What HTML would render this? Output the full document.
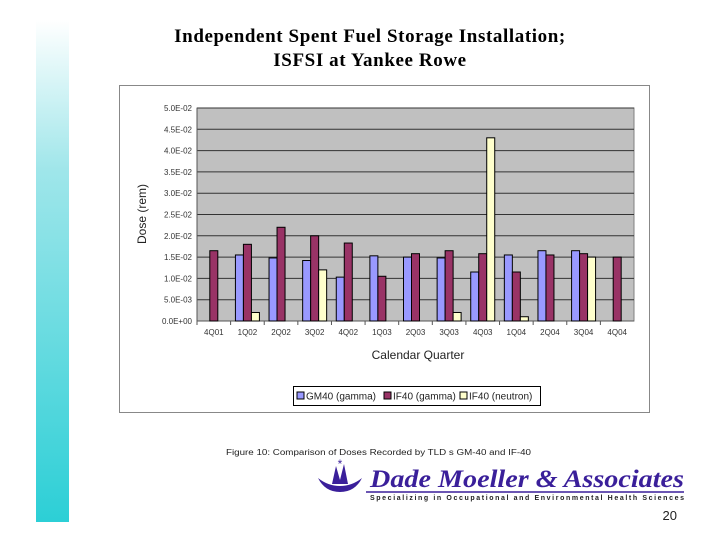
<!DOCTYPE html>
<html><head><meta charset="utf-8"><style>
body{margin:0;width:720px;height:540px;background:#fff;position:relative;overflow:hidden;font-family:"Liberation Sans",sans-serif}
#stripe{position:absolute;left:36px;top:20px;width:33px;height:502px;background:linear-gradient(#fff,#9fe6ea 30%,#2ccfd6)}
#title{position:absolute;left:70px;top:25px;width:600px;text-align:center;font-family:"Liberation Serif",serif;font-weight:bold;font-size:19px;letter-spacing:0.6px;line-height:24px;color:#000}
</style></head><body>
<div id="stripe"></div>
<div id="title">Independent Spent Fuel Storage Installation;<br>ISFSI at Yankee Rowe</div>
<svg id="chart" width="720" height="540" style="position:absolute;left:0;top:0"></svg>
<script>
const categories=["4Q01","1Q02","2Q02","3Q02","4Q02","1Q03","2Q03","3Q03","4Q03","1Q04","2Q04","3Q04","4Q04"];
const gm40Gamma=[null,0.0155,0.0148,0.0142,0.0103,0.0153,0.0150,0.0148,0.0115,0.0155,0.0165,0.0165,null];
const if40Gamma=[0.0165,0.0180,0.0220,0.0200,0.0183,0.0105,0.0158,0.0165,0.0158,0.0115,0.0155,0.0158,0.0150];
const if40Neutron=[null,0.0020,null,0.0120,null,null,null,0.0020,0.0430,0.0010,null,0.0150,null];
const yTicks=[0,0.005,0.01,0.015,0.02,0.025,0.03,0.035,0.04,0.045,0.05];
const yTickLabels=["0.0E+00","5.0E-03","1.0E-02","1.5E-02","2.0E-02","2.5E-02","3.0E-02","3.5E-02","4.0E-02","4.5E-02","5.0E-02"];
const series=[{name:"GM40 (gamma)",vals:gm40Gamma,color:"#9999ff",off:-12},{name:"IF40 (gamma)",vals:if40Gamma,color:"#993366",off:-4},{name:"IF40 (neutron)",vals:if40Neutron,color:"#ffffcc",off:4}];
const svg=document.getElementById('chart');const NS="http://www.w3.org/2000/svg";
function mk(t,a,p){const e=document.createElementNS(NS,t);for(const k in a)e.setAttribute(k,a[k]);(p||svg).appendChild(e);return e;}
const X0=197,X1=634,Y0=321,Y1=108;
const band=(X1-X0)/categories.length;
const xC=i=>X0+band*(i+0.5);
const y=v=>Y0-(v/0.05)*(Y0-Y1);
let e=mk('rect',{x:119.5,y:85.5,width:530,height:327,fill:'#fff',stroke:'#888'});


e=mk('rect',{x:X0,y:Y1,width:X1-X0,height:Y0-Y1,fill:'#c0c0c0',stroke:'#808080'});


yTicks.forEach((t,i)=>{
 if(t>0){const g=mk('line',{x1:X0,x2:X1,y1:y(t),y2:y(t),stroke:'#333','stroke-width':1});
 
 }
 const tx=mk('text',{x:X0-5,y:y(t)+3,'text-anchor':'end','font-size':8,fill:'#333'});tx.textContent=yTickLabels[i];
 
 
});
mk('line',{x1:X0,x2:X0,y1:Y1,y2:Y0,stroke:'#555'});
mk('line',{x1:X0,x2:X1,y1:Y0,y2:Y0,stroke:'#555'});
categories.forEach((c,i)=>{
 mk('line',{x1:X0+band*i,x2:X0+band*i,y1:Y0,y2:Y0+4,stroke:'#555'});
 const tx=mk('text',{x:xC(i),y:Y0+14,'text-anchor':'middle','font-size':8,fill:'#333'});tx.textContent=c;
 
 
 series.forEach(s=>{const v=s.vals[i];if(v==null)return;
  const r=mk('rect',{x:xC(i)+s.off,y:y(v),width:8,height:Y0-y(v),fill:s.color,stroke:'#000','stroke-width':1});
  
  });
});
let t=mk('text',{x:146,y:214,'text-anchor':'middle','font-size':12,fill:'#222',transform:'rotate(-90 146 214)'});t.textContent="Dose (rem)";


t=mk('text',{x:418,y:359,'text-anchor':'middle','font-size':12,fill:'#222'});t.textContent="Calendar Quarter";


const lg=mk('g',{});


mk('rect',{x:293.5,y:386.5,width:247,height:19,fill:'#fff',stroke:'#000'},lg);
[[297,'GM40 (gamma)'],[384,'IF40 (gamma)'],[460,'IF40 (neutron)']].forEach((p,k)=>{
 mk('rect',{x:p[0],y:392,width:7,height:7,fill:series[k].color,stroke:'#000'},lg);
 const tt=mk('text',{x:p[0]+9,y:399.5,'font-size':10,fill:'#222'},lg);tt.textContent=p[1];
 
 
});
t=mk('text',{x:226,y:455,'font-size':8,fill:'#222',textLength:305,lengthAdjust:'spacingAndGlyphs'});t.textContent="Figure 10: Comparison of Doses Recorded by TLD s GM-40 and IF-40";


const logo=mk('g',{});


mk('path',{d:'M318 478 Q325 492 340 492 Q355 492 362 478 Q352 486 340 486 Q328 486 318 478Z',fill:'#3a1f9a'},logo);
mk('path',{d:'M332 484 L336 466 L340 480 L344 464 L348 484Z',fill:'#3a1f9a'},logo);
mk('text',{x:340,y:468,'text-anchor':'middle','font-size':12,fill:'#3a1f9a'},logo).textContent="*";
let lt=mk('text',{x:370,y:487,'font-size':25,'font-family':'Liberation Serif,serif','font-weight':'bold','font-style':'italic',fill:'#3a1f9a',textLength:314,lengthAdjust:'spacingAndGlyphs'},logo);lt.textContent="Dade Moeller & Associates";
mk('line',{x1:366,x2:684,y1:492,y2:492,stroke:'#3a1f9a','stroke-width':1.5},logo);
lt=mk('text',{x:370,y:500,'font-size':7,'font-weight':'bold',fill:'#222',textLength:314,lengthAdjust:'spacing'},logo);lt.textContent="Specializing in Occupational and Environmental Health Sciences";
t=mk('text',{x:677,y:520,'text-anchor':'end','font-size':13,fill:'#222'});t.textContent="20";


</script>
</body></html>
